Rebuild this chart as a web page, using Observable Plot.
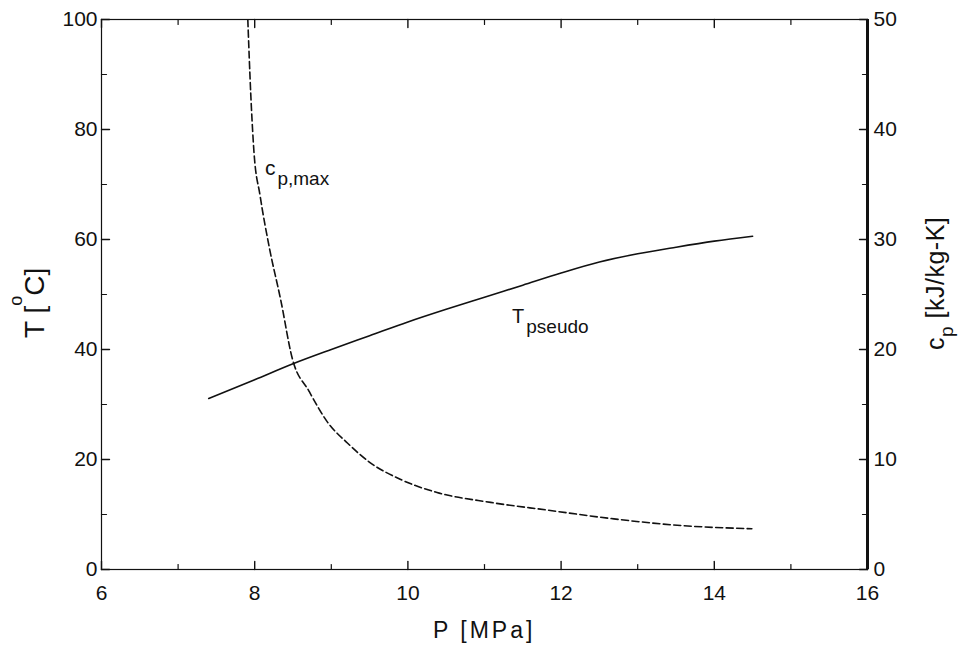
<!DOCTYPE html>
<html><head><meta charset="utf-8">
<script src="https://cdn.jsdelivr.net/npm/d3@7"></script>
<script src="https://cdn.jsdelivr.net/npm/@observablehq/plot@0.6"></script>
<style>
body{margin:0;background:#fff;}
#chart svg{display:block;}
</style>
</head><body><div id="chart"></div>
<script>
// Pseudo-critical temperature T_pseudo [°C] vs pressure P [MPa]
const pressureT = [7.4, 8.0, 8.5, 9.0, 9.5, 10.0, 10.5, 11.0, 11.5, 12.0, 12.5, 13.0, 13.5, 14.0, 14.5];
const tPseudo   = [31.1, 34.5, 37.4, 40.0, 42.5, 45.0, 47.3, 49.5, 51.7, 53.9, 55.9, 57.4, 58.6, 59.7, 60.6];
// Peak specific heat c_p,max [kJ/kg-K] vs pressure P [MPa]
const pressureCp = [7.91, 7.95, 7.99, 8.07, 8.19, 8.34, 8.49, 8.71, 8.95, 9.21, 9.51, 9.90, 10.38, 11.08, 11.82, 12.69, 13.56, 14.49];
const cpMax      = [50, 43, 38, 34, 29.3, 24.5, 19.2, 16.2, 13.4, 11.5, 9.7, 8.2, 7.0, 6.1, 5.4, 4.6, 4.0, 3.7];
// Axis ticks
const xTicks  = [6, 8, 10, 12, 14, 16];
const xMinor  = [7, 9, 11, 13, 15];
const tTicks  = [0, 20, 40, 60, 80, 100];
const tMinor  = [10, 30, 50, 70, 90];
const cpTicks = [0, 10, 20, 30, 40, 50];
const cpMinor = [5, 15, 25, 35, 45];
const xDomain = [6, 16], tDomain = [0, 100], cpDomain = [0, 50];
// Curve labels (anchor in data units)
const curveLabels = [
  {main: "c", sub: "p,max", p: 8.14, t: 71.6, size: 21, subSize: 19},
  {main: "T", sub: "pseudo", p: 11.366, t: 44.7, size: 20, subSize: 19}
];

const cpToT = (tDomain[1] - tDomain[0]) / (cpDomain[1] - cpDomain[0]);
const tData = pressureT.map((p, i) => ({p, t: tPseudo[i]}));
const cpData = pressureCp.map((p, i) => ({p, cp: cpMax[i]}));
const font = "'Liberation Sans', Arial, Helvetica, sans-serif";
const tickShape = {draw(ctx, l) { ctx.moveTo(0, 0); ctx.lineTo(0, -l); }};
const ticks = (data, x, y, rotate, length, sw) =>
  Plot.vector(data, {x, y, rotate, length, anchor: "start", shape: tickShape, stroke: "#111", strokeWidth: sw});

const chart = Plot.plot({
  width: 962, height: 651,
  marginTop: 19, marginRight: 95, marginBottom: 82, marginLeft: 101,
  style: {fontSize: "21px", fontFamily: font, color: "#111", background: "#fff"},
  x: {domain: xDomain},
  y: {domain: tDomain},
  marks: [
    // tick labels
    Plot.axisX(xTicks, {anchor: "bottom", tickSize: 0, tickPadding: 16, label: null}),
    Plot.axisY(tTicks, {anchor: "left", tickSize: 0, tickPadding: 4, label: null}),
    Plot.axisY(cpTicks.map(c => c * cpToT), {anchor: "right", tickSize: 0, tickPadding: 6, label: null, tickFormat: d => d / cpToT}),
    // inward major ticks
    ticks(xTicks, d => d, () => tDomain[0], 0, 8, 1.4),
    ticks(xTicks, d => d, () => tDomain[1], 180, 8, 1.4),
    ticks(tTicks, () => xDomain[0], d => d, 90, 8, 1.4),
    ticks(cpTicks, () => xDomain[1], d => d * cpToT, -90, 8, 1.4),
    // inward minor ticks
    ticks(xMinor, d => d, () => tDomain[0], 0, 5, 1.2),
    ticks(xMinor, d => d, () => tDomain[1], 180, 5, 1.2),
    ticks(tMinor, () => xDomain[0], d => d, 90, 5, 1.2),
    ticks(cpMinor, () => xDomain[1], d => d * cpToT, -90, 5, 1.2),
    Plot.frame({stroke: "#111", strokeWidth: 1.2}),
    Plot.ruleX([xDomain[1]], {stroke: "#111", strokeWidth: 3}),
    Plot.line(tData, {x: "p", y: "t", curve: "monotone-x", stroke: "#111", strokeWidth: 1.6}),
    Plot.line(cpData, {x: "p", y: d => d.cp * cpToT, curve: "monotone-x", stroke: "#111", strokeWidth: 1.6, strokeDasharray: "7,3.5", clip: true})
  ]
});
document.getElementById("chart").appendChild(chart);

const svg = d3.select(chart);
const xs = chart.scale("x"), ys = chart.scale("y");

// curve labels
for (const lab of curveLabels) {
  const t = svg.append("text")
    .attr("x", xs.apply(lab.p)).attr("y", ys.apply(lab.t)).attr("text-anchor", "start")
    .attr("font-family", font).attr("font-size", lab.size).attr("fill", "#111");
  t.append("tspan").text(lab.main);
  t.append("tspan").attr("dx", 2).attr("dy", 10).attr("font-size", lab.subSize).text(lab.sub);
}

// axis titles
svg.append("text")
  .attr("x", 433).attr("y", 638).attr("text-anchor", "start")
  .attr("font-family", font).attr("font-size", 23).attr("letter-spacing", 3).attr("fill", "#111")
  .text("P [MPa]");

const yl = svg.append("text")
  .attr("transform", "translate(44,338) rotate(-90)").attr("text-anchor", "start")
  .attr("font-family", font).attr("font-size", 28).attr("fill", "#111");
yl.append("tspan").text("T [");
yl.append("tspan").attr("dy", -22).attr("font-size", 18).text("o");
yl.append("tspan").attr("dy", 22).text("C]");

const yr = svg.append("text")
  .attr("transform", "translate(944,350) rotate(-90)").attr("text-anchor", "start")
  .attr("font-family", font).attr("font-size", 25).attr("letter-spacing", 0.5).attr("fill", "#111");
yr.append("tspan").text("c");
yr.append("tspan").attr("dy", 9).attr("font-size", 19).text("p");
yr.append("tspan").attr("dy", -9).text(" [kJ/kg-K]");
</script>
</body></html>
